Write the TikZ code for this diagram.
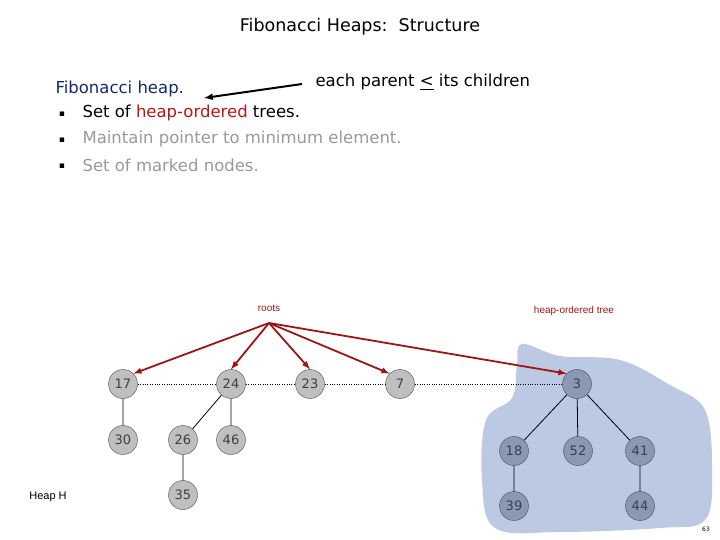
\documentclass[tikz,border=0pt]{standalone}
\usepackage{fontspec}
\usepackage{amssymb}
\setmainfont{DejaVu Sans}
\newfontfamily\arialf{Liberation Sans}
\definecolor{hred}{RGB}{190,20,20}
\definecolor{arred}{RGB}{160,20,20}
\definecolor{blob}{RGB}{187,201,227}
\definecolor{bnode}{RGB}{138,152,182}
\definecolor{fhblue}{RGB}{20,40,120}
\begin{document}
\begin{tikzpicture}[x=1pt,y=-1pt,
  gn/.style={circle,draw=black!70,fill=black!25,minimum size=29pt,inner sep=0pt,font=\fontsize{13}{13}\selectfont\color{black!75}},
  bn/.style={gn,fill=bnode},
  rarr/.style={draw=arred,line width=1.8pt,-latex},
  ed/.style={draw=black,line width=0.8pt},
  sib/.style={draw=black,dotted}]
\useasboundingbox (0,0) rectangle (720,540);
\fill[blob] plot[smooth cycle,tension=0.6] coordinates{(522,344) (560,356) (620,360) (670,385) (705,410) (712,470) (705,520) (660,528) (560,532) (495,528) (482,480) (486,420) (512,398) (517,365)};
\node[font=\fontsize{17.5}{17.5}\selectfont] (title) at (360,27) {Fibonacci Heaps:\ \ Structure};
\node[anchor=west,font=\fontsize{16.5}{16.5}\selectfont,color=fhblue] (fh) at (52,89) {Fibonacci heap.};
\node[anchor=west,font=\fontsize{16.5}{16.5}\selectfont] (ep) at (312,82) {each parent \underline{<} its children};
\coordinate (epa) at (302,84);
\draw[line width=2pt,-latex] (epa) -- (204,98);
\node (b1) at (62,114) {\fontsize{6}{6}\selectfont$\blacksquare$};
\node (b2) at (62,140) {\fontsize{6}{6}\selectfont$\blacksquare$};
\node (b3) at (62,166) {\fontsize{6}{6}\selectfont$\blacksquare$};
\node[anchor=west,font=\fontsize{16.5}{16.5}\selectfont] (t1) at (79,113) {Set of \textcolor{hred}{heap-ordered} trees.};
\node[anchor=west,font=\fontsize{16.5}{16.5}\selectfont,color=black!40] (t2) at (79,139) {Maintain pointer to minimum element.};
\node[anchor=west,font=\fontsize{16.5}{16.5}\selectfont,color=black!40] (t3) at (79,165) {Set of marked nodes.};
\node[font=\arialf\fontsize{10}{10}\selectfont,color=arred] (roots) at (269,308) {roots};
\node[font=\arialf\fontsize{10}{10}\selectfont,color=arred] (hot) at (574,311) {heap-ordered tree};
\node[font=\arialf\fontsize{11}{11}\selectfont] (hh) at (48,497) {Heap H};
\coordinate (ro) at (269,323);
\node[gn] (n17) at (123,384) {17};
\node[gn] (n24) at (231,384) {24};
\node[gn] (n23) at (310,384) {23};
\node[gn] (n7) at (400,384) {7};
\node[bn] (n3) at (577,384) {3};
\node[gn] (n30) at (123,440) {30};
\node[gn] (n26) at (183,440) {26};
\node[gn] (n46) at (231,440) {46};
\node[gn] (n35) at (183,495) {35};
\node[bn] (n18) at (514,451) {18};
\node[bn] (n52) at (578,451) {52};
\node[bn] (n41) at (640,451) {41};
\node[bn] (n39) at (514,506) {39};
\node[bn] (n44) at (640,506) {44};
\draw[sib] (n17)--(n24) (n24)--(n23) (n23)--(n7) (n7)--(n3);
\draw[ed] (n17)--(n30) (n24)--(n26) (n24)--(n46) (n26)--(n35) (n3)--(n18) (n3)--(n52) (n3)--(n41) (n18)--(n39) (n41)--(n44);
\draw[rarr] (ro) -- (n17.north east);
\draw[rarr] (ro) -- (n24.north);
\draw[rarr] (ro) -- (n23.north);
\draw[rarr] (ro) -- (n7.north west);
\draw[rarr] (ro) -- (n3.north west);
\node[font=\fontsize{6}{6}\selectfont] (pg) at (706,529) {63};
\end{tikzpicture}
\end{document}
